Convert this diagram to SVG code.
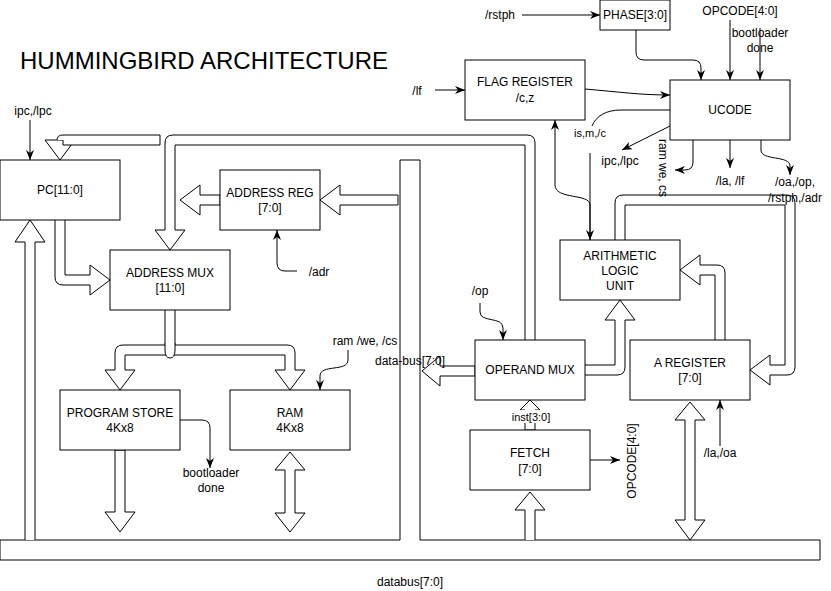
<svg xmlns="http://www.w3.org/2000/svg" width="831" height="591" viewBox="0 0 831 591">
<style>
text{font-family:"Liberation Sans",Arial,sans-serif;font-size:12px;fill:#000;text-anchor:middle}
.box{fill:#fff;stroke:#000;stroke-width:1}
.fa{fill:#fff;stroke:#000;stroke-width:1;stroke-linejoin:miter}
.ln{fill:none;stroke:#000;stroke-width:1}
.ar{fill:none;stroke:#000;stroke-width:1;marker-end:url(#a)}
.title{font-size:24px;text-anchor:start}
.sm{font-size:11px}
</style>
<defs>
<marker id="a" viewBox="0 0 10 8" refX="10" refY="4" markerWidth="10" markerHeight="8" markerUnits="userSpaceOnUse" orient="auto"><path d="M0,0 L10,4 L0,8 L3,4 z" fill="#000"/></marker>
</defs>
<rect width="831" height="591" fill="#fff"/>
<text class="title" x="20" y="69">HUMMINGBIRD ARCHITECTURE</text>

<g id="databus">
<polygon class="fa" points="0,540 400,540 400,160 420,160 420,540 820,540 820,560 0,560"/>
<text x="410" y="586">databus[7:0]</text>
</g>

<g id="buses">
<polyline class="fa" points="25,540 25,242 15,242 30,220 45,242 35,242 35,540"/>
<path class="fa" d="M55,220 V277 Q55,285 63,285 H90 V295 L110,280 L90,265 V275 H65 V220"/>
<path class="fa" d="M535,340 V143 Q535,135 527,135 H173 Q165,135 165,143 V230 H155 L170,250 L185,230 H175 V145 H525 V340"/>
<polygon class="fa" points="45,140 75,140 60,160"/>
<path class="fa" d="M57,140 Q57,135 63,135 H160 V145 H63 V140"/>
<polygon class="fa" points="220,195 200,195 200,185 180,200 200,215 200,205 220,205"/>
<polygon class="fa" points="398,195 340,195 340,185 320,200 340,215 340,205 398,205"/>
<path class="fa" d="M165,310 V345 H123 Q115,345 115,353 V370 H105 L120,390 L135,370 H125 V355 H285 V370 H275 L290,390 L305,370 H295 V353 Q295,345 287,345 H175 V310"/>
<path class="fa" d="M165,343 V350 Q165,358 170,358 Q175,358 175,350 V343"/>
<polygon class="fa" points="115,450 115,512 105,512 120,532 135,512 125,512 125,450"/>
<polygon class="fa" points="290,452 305,470 295,470 295,513 305,513 290,532 275,513 285,513 285,470 275,470"/>
<polygon class="fa" points="690,402 705,420 695,420 695,520 705,520 690,540 675,520 685,520 685,420 675,420"/>
<polyline class="fa" points="525,540 525,510 515,510 530,492 545,510 535,510 535,540"/>
<polygon class="fa" points="525,430 525,410 520,410 530,400 540,410 535,410 535,430"/>
<polygon class="fa" points="475,366 440,366 440,356 422,371 440,386 440,376 475,376"/>
<path class="fa" d="M585,365 H615 V320 H605 L620,300 L635,320 H625 V367 Q625,375 617,375 H585"/>
<path class="fa" d="M715,340 V275 H700 V285 L680,270 L700,255 V265 H717 Q725,265 725,273 V340"/>
<path class="fa" d="M615,240 V203 Q615,195 623,195 H787 Q795,195 795,203 V367 Q795,375 787,375 H770 V385 L750,370 L770,355 V365 H785 V205 H625 V240"/>
</g>

<g id="connectors">
<path class="ar" d="M30,120 V160"/>
<path class="ar" d="M522,15 H600"/>
<path class="ar" d="M636,30 V52 Q636,60 644,60 H693 Q701,60 701,68 V80"/>
<path class="ar" d="M730,20 V80"/>
<path class="ar" d="M760,28 V80"/>
<path class="ar" d="M435,90 H465"/>
<path class="ar" d="M585,89 C620,92 640,95 670,95"/>
<path class="ln" d="M670,110 H621 C606,110 596,116 592,126"/>
<path class="ar" d="M670,126 L622,150"/>
<path class="ar" d="M693,140 V162 Q693,170 685,170 H675"/>
<path class="ar" d="M730,140 V168"/>
<path class="ar" d="M761,140 V150 C761,161 790,155 790,166 V175"/>
<path class="ar" d="M590,240 V205 C590,193 555,200 555,185 V120"/>
<path class="ar" d="M590,153 V240"/>
<path class="ar" d="M480,303 V312 C480,323 503,316 503,328 V340"/>
<path class="ar" d="M348,350 V360 C348,372 320,364 320,376 V390"/>
<path class="ar" d="M180,420 H202 Q210,420 210,428 V468"/>
<path class="ar" d="M297,271 H285 Q277,271 277,263 V230"/>
<path class="ar" d="M590,460 H620"/>
<path class="ar" d="M720,452 V400"/>
</g>

<g id="pc"><rect class="box" x="0" y="160" width="120" height="60"/><text x="60" y="194">PC[11:0]</text></g>
<g id="address-reg"><rect class="box" x="220" y="170" width="100" height="60"/><text x="270" y="197">ADDRESS REG</text><text x="270" y="212">[7:0]</text></g>
<g id="address-mux"><rect class="box" x="110" y="250" width="120" height="60"/><text x="170" y="277">ADDRESS MUX</text><text x="170" y="292">[11:0]</text></g>
<g id="program-store"><rect class="box" x="60" y="390" width="120" height="60"/><text x="120" y="417">PROGRAM STORE</text><text x="120" y="432">4Kx8</text></g>
<g id="ram"><rect class="box" x="230" y="390" width="120" height="60"/><text x="290" y="417">RAM</text><text x="290" y="432">4Kx8</text></g>
<g id="flag-register"><rect class="box" x="465" y="60" width="120" height="60"/><text x="525" y="86">FLAG REGISTER</text><text x="525" y="102">/c,z</text></g>
<g id="phase"><rect class="box" x="600" y="0" width="70" height="30"/><text x="635" y="19">PHASE[3:0]</text></g>
<g id="ucode"><rect class="box" x="670" y="80" width="120" height="60"/><text x="730" y="114">UCODE</text></g>
<g id="alu"><rect class="box" x="560" y="240" width="120" height="60"/><text x="620" y="260">ARITHMETIC</text><text x="620" y="275">LOGIC</text><text x="620" y="290">UNIT</text></g>
<g id="operand-mux"><rect class="box" x="475" y="340" width="110" height="60"/><text x="530" y="374">OPERAND MUX</text></g>
<g id="a-register"><rect class="box" x="630" y="340" width="120" height="60"/><text x="690" y="367">A REGISTER</text><text x="690" y="382">[7:0]</text></g>
<g id="fetch"><rect class="box" x="470" y="430" width="120" height="60"/><text x="530" y="457">FETCH</text><text x="530" y="473">[7:0]</text></g>

<g id="labels">
<text x="33" y="115">ipc,/lpc</text>
<text x="500" y="19">/rstph</text>
<text x="740" y="15">OPCODE[4:0]</text>
<text x="760" y="37">bootloader</text>
<text x="760" y="52">done</text>
<text x="417" y="95">/lf</text>
<text class="sm" x="590" y="137">is,m,/c</text>
<text x="620" y="165">ipc,/lpc</text>
<text transform="translate(663,168) rotate(90)" y="4">ram we, cs</text>
<text x="730" y="185">/la, /lf</text>
<text x="795" y="186">/oa,/op,</text>
<text x="795" y="202">/rstph,/adr</text>
<text x="480" y="295">/op</text>
<text x="365" y="345">ram /we, /cs</text>
<text x="410" y="365">data-bus[7:0]</text>
<text x="319" y="276">/adr</text>
<text x="211" y="477">bootloader</text>
<text x="211" y="492">done</text>
<rect x="511" y="410" width="40" height="13" fill="#fff"/>
<text class="sm" x="531" y="421">inst[3:0]</text>
<text transform="translate(632,461) rotate(-90)" y="4">OPCODE[4:0]</text>
<rect x="702" y="446" width="36" height="14" fill="#fff"/>
<text x="720" y="457">/la,/oa</text>
</g>
</svg>
